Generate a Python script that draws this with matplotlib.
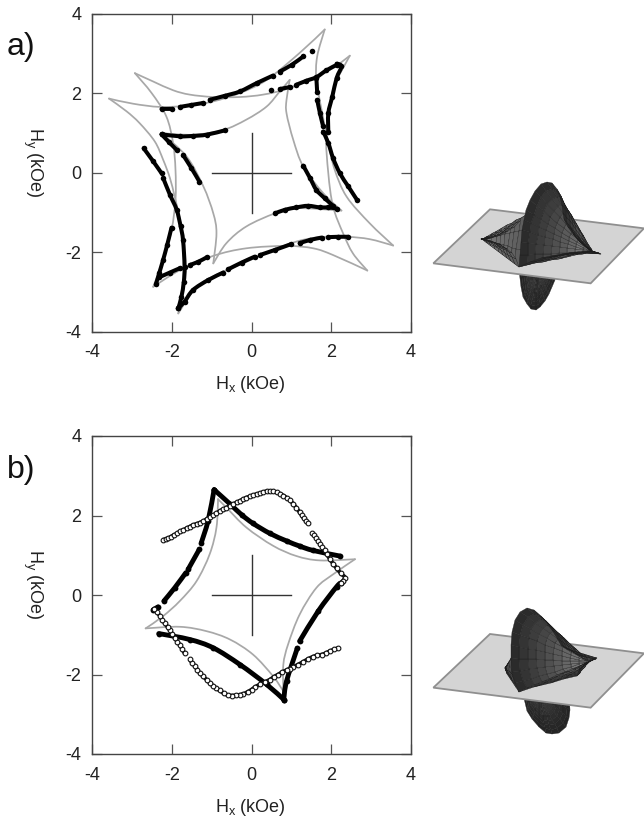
import numpy as np
import matplotlib
matplotlib.use("Agg")
import matplotlib.pyplot as plt
from matplotlib.path import Path
from matplotlib.patches import PathPatch

plt.rcParams['font.family'] = ['Liberation Sans', 'DejaVu Sans']
plt.rcParams['mathtext.default'] = 'regular'
plt.rcParams['axes.unicode_minus'] = False

n = np.nan
TICKS = [-4, -2, 0, 2, 4]
cross_x = [[-1, 1], [0, 0]]
cross_y = [[0, 0], [-1, 1]]

# ---- panel a: gray astroid arcs (kOe)
a_gray_x = [
    [1.84,1.21,0.38,-0.29,-0.96,-1.63,-2.30,-2.97,-3.58],
    [-3.58,-3.14,-2.81,-2.43,-2.22,-2.05,-1.93,-1.80,-1.72,-1.72,-1.84],
    [-1.84,-1.38,-0.80,-0.13,0.46,1.13,1.72,2.39,2.97,3.56],
    [3.56,2.97,2.39,2.09,1.93,1.76,1.63,1.65,1.84],
    [2.47,2.05,1.55,0.88,0.29,-0.29,-0.96,-1.55,-1.97,-2.47,-2.93],
    [-2.93,-2.51,-2.14,-1.97,-1.91,-1.91,-2.01,-2.22,-2.47],
    [-2.47,-1.80,-0.96,-0.13,0.88,1.55,2.05,2.91],
    [2.91,2.55,2.30,2.05,1.93,1.88,2.05,2.47],
    [0.96,0.71,0.38,-0.13,-0.71,-1.47,-2.26],
    [-2.26,-1.63,-1.21,-0.96,-0.88,-0.96],
    [-0.96,-0.63,-0.13,0.59,1.13,2.26],
    [2.26,1.80,1.30,1.05,0.88,0.88,0.96],
]
a_gray_y = [
    [3.61,3.02,2.34,2.01,1.80,1.69,1.66,1.74,1.87],
    [1.87,1.55,1.25,0.79,0.33,-0.13,-0.60,-1.18,-1.94,-2.70,-3.54],
    [-3.54,-2.87,-2.53,-2.24,-1.98,-1.73,-1.62,-1.61,-1.67,-1.83],
    [-1.83,-1.27,-0.60,0.08,0.75,1.59,2.34,2.93,3.61],
    [2.95,2.64,2.39,2.11,1.97,1.91,1.91,1.97,2.08,2.30,2.51],
    [2.51,2.01,1.42,0.75,0.08,-0.68,-1.44,-2.19,-2.87],
    [-2.87,-2.45,-2.09,-1.90,-1.84,-1.90,-2.07,-2.46],
    [-2.46,-2.03,-1.52,-0.85,-0.01,1.0,2.09,2.95],
    [2.34,2.05,1.67,1.34,1.08,0.96,1.0],
    [1.0,0.41,-0.34,-1.02,-1.52,-2.28],
    [-2.28,-1.77,-1.35,-1.02,-0.89,-0.95],
    [-0.95,-0.51,0.16,0.83,1.50,1.84,2.34],
]
# ---- panel a: measured points, solid (nan = gap)
a_black_x = [
    -2.26,-2.01,n,-1.80,-1.51,-1.21,n,-1.05,-0.67,-0.29,0.13,0.54,n,0.71,1.01,1.30,n,1.52,n,
    0.50,n,0.71,0.96,n,1.13,1.38,1.63,1.88,2.14,n,
    -2.26,-1.80,-1.47,-1.13,-0.67,n,
    -2.26,-2.07,-1.88,n,-1.72,-1.51,-1.31,n,
    -2.71,-2.47,-2.26,n,-2.22,-2.05,-1.88,-1.78,-1.72,-1.68,-1.70,-1.76,-1.84,n,
    -2.01,-2.12,-2.22,-2.32,-2.40,n,
    -2.32,-2.05,-1.80,n,-1.55,-1.34,-1.13,n,
    -1.84,-1.68,-1.47,-1.09,-0.71,n,-0.59,-0.25,0.08,n,0.21,0.59,0.98,n,1.21,1.47,1.76,n,1.93,2.18,2.43,n,
    0.59,0.84,1.13,1.42,1.72,1.93,2.14,n,
    1.30,1.47,1.63,1.84,2.05,n,
    2.65,2.43,2.22,2.05,1.93,1.80,n,
    1.63,1.65,n,1.65,1.72,1.80,n,
    1.93,1.93,2.03,2.14,2.26,2.14,
]
a_black_y = [
    1.61,1.61,n,1.66,1.71,1.76,n,1.84,1.94,2.05,2.26,2.45,n,2.55,2.72,2.93,n,3.08,n,
    2.08,n,2.11,2.16,n,2.22,2.32,2.41,2.58,2.72,n,
    0.97,0.92,0.93,0.96,1.07,n,
    0.97,0.77,0.58,n,0.45,0.12,-0.22,n,
    0.62,0.29,-0.01,n,-0.13,-0.55,-0.93,-1.35,-1.69,-2.36,-2.74,-3.12,-3.41,n,
    -1.38,-1.82,-2.19,-2.53,-2.80,n,
    -2.63,-2.51,-2.40,n,-2.32,-2.24,-2.13,n,
    -3.41,-3.24,-2.95,-2.70,-2.51,n,-2.43,-2.26,-2.11,n,-2.07,-1.94,-1.80,n,-1.77,-1.69,-1.63,n,-1.62,-1.61,-1.61,n,
    -1.02,-0.93,-0.87,-0.83,-0.87,-0.87,-0.90,n,
    0.18,-0.13,-0.43,-0.64,-0.83,n,
    -0.68,-0.34,-0.01,0.37,0.75,1.04,n,
    2.39,2.03,n,1.84,1.50,1.17,n,
    1.04,1.50,1.92,2.39,2.68,2.75,
]
# ---- panel b
b_gray_x = [
    [-0.84,-0.63,-0.13,0.54,1.13,1.72,2.60],
    [2.60,2.05,1.63,1.21,0.92,0.80,0.80],
    [0.80,0.54,0.04,-0.54,-1.13,-1.80,-2.66],
    [-2.66,-2.22,-1.80,-1.38,-1.05,-0.88,-0.84],
]
b_gray_y = [
    [2.41,2.20,1.70,1.24,0.98,0.87,0.90],
    [0.90,0.52,0.18,-0.49,-1.24,-1.75,-2.42],
    [-2.42,-2.04,-1.50,-1.12,-0.91,-0.80,-0.84],
    [-0.84,-0.53,-0.15,0.35,1.03,1.70,2.41],
]
b_black_x = [
    -0.94,-0.54,-0.25,0.04,0.46,0.88,1.21,1.55,2.22,n,
    -0.94,-1.09,-1.26,n,-1.31,-1.59,n,-1.65,-1.93,-2.20,n,-2.35,-2.47,n,
    2.26,2.14,1.68,1.21,n,1.15,0.88,0.81,n,
    0.81,0.38,-0.29,-0.96,-1.55,-2.33,
]
b_black_y = [
    2.65,2.29,2.02,1.80,1.55,1.36,1.23,1.12,0.98,n,
    2.65,1.87,1.32,n,1.15,0.65,n,0.56,0.18,-0.15,n,-0.30,-0.37,n,
    0.31,0.21,-0.40,-1.16,n,-1.34,-2.17,-2.63,n,
    -2.63,-2.25,-1.75,-1.33,-1.12,-0.97,
]
b_open_x = [
    -2.22,-2.15,-2.09,-2.02,-1.95,-1.87,-1.80,-1.71,-1.63,-1.55,-1.47,-1.38,-1.30,-1.21,-1.13,-1.04,-0.96,-0.88,-0.80,-0.71,-0.63,-0.54,-0.46,-0.37,-0.29,-0.21,-0.13,-0.04,0.04,0.13,0.21,0.30,0.38,0.46,0.54,0.63,0.71,0.80,0.88,0.97,1.05,1.13,1.21,1.26,1.31,1.36,1.41,n,
    1.53,1.58,1.63,1.68,1.73,1.78,1.84,1.90,1.97,2.05,2.14,2.24,2.35,2.30,2.26,n,
    2.18,2.08,1.97,1.87,1.76,1.65,1.55,1.42,1.30,1.17,1.05,0.96,0.88,0.77,0.67,0.56,0.46,0.33,0.21,0.10,0,-0.10,-0.21,-0.30,-0.38,-0.49,-0.59,-0.70,-0.80,-0.88,-0.96,-1.05,-1.13,-1.21,-1.30,-1.36,-1.42,-1.49,-1.55,n,
    -1.68,-1.74,-1.80,-1.86,-1.93,-1.99,-2.05,-2.11,-2.18,-2.24,-2.30,-2.37,-2.45,
]
b_open_y = [
    1.39,1.41,1.43,1.47,1.51,1.55,1.60,1.64,1.68,1.72,1.76,1.79,1.82,1.86,1.91,1.96,2.01,2.06,2.11,2.16,2.20,2.25,2.29,2.33,2.37,2.41,2.45,2.48,2.51,2.54,2.56,2.59,2.61,2.61,2.61,2.58,2.55,2.50,2.45,2.38,2.29,2.19,2.08,2.01,1.93,1.87,1.81,n,
    1.57,1.50,1.43,1.35,1.28,1.20,1.13,1.02,0.90,0.79,0.67,0.55,0.44,0.36,0.29,n,
    -1.33,-1.37,-1.41,-1.46,-1.50,-1.52,-1.55,-1.61,-1.68,-1.75,-1.81,-1.85,-1.89,-1.94,-2.00,-2.06,-2.13,-2.19,-2.25,-2.31,-2.38,-2.44,-2.49,-2.51,-2.52,-2.53,-2.52,-2.47,-2.40,-2.35,-2.29,-2.21,-2.13,-2.05,-1.96,-1.88,-1.79,-1.71,-1.62,n,
    -1.47,-1.36,-1.26,-1.17,-1.08,-0.98,-0.89,-0.80,-0.71,-0.62,-0.53,-0.44,-0.36,
]

# ---- 3D inset outlines (inset picture coordinates)
ia_plane = ([28,198,660,500], [280,118,175,340])
ia_lobe = ([285,287,290,295,300,307,318,332,350,368,385,398,408,415,418,420,432,448,465,485,505,530,490,450,415,380,350,318,285],
           [290,255,215,180,150,120,90,62,42,35,40,58,80,105,128,148,170,192,212,230,243,252,249,248,252,258,265,277,290])
ia_lobe_c = (505, 245)
ia_wing = ([170,200,230,252,270,288,305,298,290,285,275,265,250,230,200,170],
           [207,203,195,184,170,152,135,180,240,290,268,250,236,225,214,207])
ia_wing_c = (175, 207)
ia_low = ([285,340,392,392,385,375,362,348,335,320,308,298,292,285],
          [300,300,300,330,350,372,392,410,421,418,403,380,350,300])
ia_low_c = (340, 305)

ib_plane = ([28,198,660,500], [293,132,190,353])
ib_lobe = ([285,272,263,260,260,263,272,288,310,330,350,368,385,400,412,440,480,520,500,478,465,460,420,380,330,285],
           [305,280,245,205,165,125,90,65,53,60,78,98,120,145,165,180,192,203,212,228,240,258,268,280,292,305])
ib_lobe_c = (495, 215)
ib_wing = ([243,262,268,285,262,250,243], [235,205,255,305,270,252,235])
ib_wing_c = (245, 235)
ib_low = ([295,360,435,438,436,425,405,385,365,345,325,308,295],
          [300,300,300,360,385,410,428,433,428,410,388,362,300])
ib_low_c = (345, 310)

W, H = 644, 823
fig = plt.figure(figsize=(W/100, H/100), dpi=100, facecolor='white')

def smooth(ax, x, y, **kw):
    """Draw a curve through the read points using Bezier segments."""
    p = np.column_stack([x, y])
    verts, codes = [p[0]], [Path.MOVETO]
    for i in range(len(p) - 1):
        p0 = p[max(i - 1, 0)]; p1 = p[i]; p2 = p[i + 1]; p3 = p[min(i + 2, len(p) - 1)]
        verts += [p1 + (p2 - p0) / 6, p2 - (p3 - p1) / 6, p2]
        codes += [Path.CURVE4] * 3
    ax.add_patch(PathPatch(Path(verts, codes), fill=False, **kw))

def broken(ax, x, y, **kw):
    x, y = np.asarray(x, float), np.asarray(y, float)
    idx = np.flatnonzero(np.isnan(x))
    for xs, ys in zip(np.split(x, idx), np.split(y, idx)):
        keep = ~np.isnan(xs)
        if keep.sum() > 1:
            smooth(ax, xs[keep], ys[keep], **kw)

def panel(top, bottom):
    ax = fig.add_axes([92.3/W, 1-bottom/H, 318.4/W, (bottom-top)/H])
    ax.set_xlim(-4, 4); ax.set_ylim(-4, 4)
    ax.set_xticks(TICKS); ax.set_yticks(TICKS)
    ax.tick_params(direction='in', length=7.5, width=0.9, color='#555555', top=True, right=True,
                   labelsize=13, labelcolor='#222222')
    ax.tick_params(axis='x', pad=9)
    ax.tick_params(axis='y', pad=8)
    for s in ax.spines.values():
        s.set_linewidth(1.0); s.set_color('#444444')
    ax.set_xlabel('H$_{x}$ (kOe)', fontsize=13, color='#222222', va='center')
    ax.set_ylabel('H$_{y}$ (kOe)', fontsize=13, color='#222222', rotation=270, va='center', ha='center')
    ax.xaxis.set_label_coords(0.497, -(385-331.7)/317.7)
    ax.yaxis.set_label_coords(-0.186, 0.534)
    for cx, cy in zip(cross_x, cross_y):
        ax.plot(cx, cy, color='#333333', lw=1.0)
    return ax

def grays(ax, xs, ys):
    for x, y in zip(xs, ys):
        smooth(ax, x, y, edgecolor='#a8a8a8', lw=1.25, zorder=2, capstyle='round')

ax = panel(14, 331.7)
grays(ax, a_gray_x, a_gray_y)
broken(ax, a_black_x, a_black_y, edgecolor='black', lw=2.9, zorder=3, capstyle='round')
ax.plot(a_black_x, a_black_y, ls='none', color='black', marker='o', ms=4.0, mew=0, zorder=3)

bx = panel(436, 754)
grays(bx, b_gray_x, b_gray_y)
broken(bx, b_black_x, b_black_y, edgecolor='black', lw=3.5, zorder=3, capstyle='round')
bx.plot(b_black_x, b_black_y, ls='none', color='black', marker='o', ms=4.2, mew=0, zorder=3)
broken(bx, b_open_x, b_open_y, edgecolor='#111111', lw=2.8, zorder=3)
bx.plot(b_open_x, b_open_y, ls='none', marker='o', ms=3.4, mfc='white', mec='#111111', mew=0.8, zorder=4)

fig.text(7/W, 1-47/H, 'a)', fontsize=23, va='center', ha='left', color='#111111')
fig.text(7/W, 1-470/H, 'b)', fontsize=23, va='center', ha='left', color='#111111')

def fan(ia, rim, c, near, far, lw=0.25, rings=10):
    rx, ry = np.asarray(rim[0], float), np.asarray(rim[1], float)
    t = np.linspace(0.02, 1, rings)[:, None]
    X = c[0] + (rx - c[0]) * t
    Y = c[1] + (ry - c[1]) * t
    C = (near + (far - near) * t[:-1] ** 0.7) * np.ones((rings - 1, len(rx) - 1))
    ia.pcolormesh(X, Y, C, cmap='gray', vmin=0, vmax=1, edgecolors='#1c1c1c', linewidth=lw,
                  shading='flat', antialiased=True)

def inset(top, plane, lobe, lobe_c, wing, wing_c, low, low_c):
    ia = fig.add_axes([424/W, 1-(top+150)/H, 220/W, 150/H], facecolor='none')
    ia.set_xlim(0, 660); ia.set_ylim(450, 0); ia.axis('off')
    fan(ia, low, low_c, 0.28, 0.13)
    ia.fill(plane[0], plane[1], facecolor='#d4d4d4', edgecolor='#8f8f8f', lw=1.3)
    fan(ia, wing, wing_c, 0.5, 0.36)
    fan(ia, lobe, lobe_c, 0.55, 0.14)

inset(170, ia_plane, ia_lobe, ia_lobe_c, ia_wing, ia_wing_c, ia_low, ia_low_c)
inset(590, ib_plane, ib_lobe, ib_lobe_c, ib_wing, ib_wing_c, ib_low, ib_low_c)

fig.savefig('out.png', dpi=100)
